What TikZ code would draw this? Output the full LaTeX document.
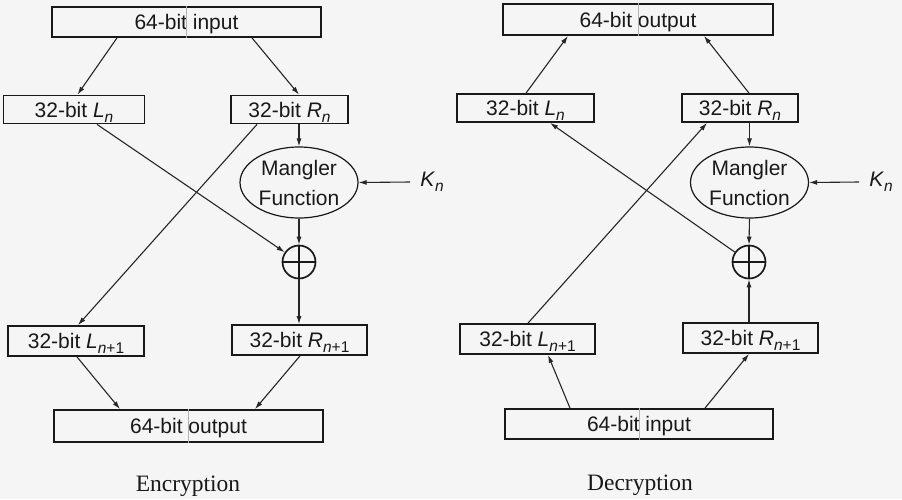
\documentclass[tikz,border=0pt]{standalone}
\usepackage{fontspec}
\setmainfont{Liberation Sans}
\newfontfamily\capfont{Liberation Serif}
\usetikzlibrary{arrows.meta,shapes.geometric,calc}
\newcommand\subx[1]{\raisebox{-5pt}{\fontsize{15.5}{15.5}\selectfont #1}}
\begin{document}
\begin{tikzpicture}[x=1pt,y=-1pt,
  lbl/.style={font=\fontsize{21}{30}\selectfont, text=black!90},
  box/.style={draw=black!90, line width=1.8pt, inner sep=0pt, lbl, text height=15pt, text depth=0pt},
  mang/.style={ellipse, draw=black!90, line width=1.2pt, inner sep=0pt, lbl, align=center, minimum width=118pt, minimum height=71pt},
  xorc/.style={circle, draw=black!90, line width=1.7pt, minimum size=33pt, inner sep=0pt},
  arr/.style={-{Latex[length=8pt,width=5pt]}, line width=1.1pt, draw=black!85},
  divider/.style={draw=black!30, line width=0.5pt},
  keylbl/.style={lbl, inner sep=0pt},
  captxt/.style={font=\capfont\fontsize{23.5}{23.5}\selectfont, text=black!90, inner sep=0pt}]
\fill[white!96!black] (0,0) rectangle (902,499);
\useasboundingbox (0,0) rectangle (902,499);

% ---------------- Encryption ----------------
\node[box, minimum width=269pt, minimum height=30pt] (ein) at (186.5,22) {64-bit input};
\node[box, minimum width=141pt, minimum height=28pt] (eLn) at (74,109.5) {32-bit \textit{L}\subx{\textit{n}}};
\node[box, minimum width=117pt, minimum height=28pt] (eRn) at (289.5,109.5) {32-bit \textit{R}\subx{\textit{n}}};
\node[mang] (emang) at (299,182.5) {Mangler\\Function};
\node[keylbl] (eK) at (432,182) {\textit{K}\subx{\textit{n}}};
\node[xorc] (exor) at (299,262) {};
\node[box, minimum width=136pt, minimum height=30pt] (eLn1) at (76,341) {32-bit \textit{L}\subx{\textit{n}+1}};
\node[box, minimum width=135pt, minimum height=30pt] (eRn1) at (299.5,340) {32-bit \textit{R}\subx{\textit{n}+1}};
\node[box, minimum width=269pt, minimum height=32pt] (eout) at (188.5,426) {64-bit output};
\node[captxt] (ecap) at (188,486) {Encryption};

\draw[divider] (ein.north) -- (ein.south);
\draw[divider] (eout.north) -- (eout.south);
\draw[line width=1.3pt, black!90] (exor.north) -- (exor.south) (exor.west) -- (exor.east);

\draw[arr] ([xshift=-69.5pt]ein.south) -- ([xshift=3.5pt]eLn.north);
\draw[arr] ([xshift=65.5pt]ein.south) -- ([xshift=9.5pt]eRn.north);
\draw[arr] (eRn.south -| emang.north) -- (emang.north);
\draw[arr] ([xshift=-10pt]eK.west) -- (emang.east);
\draw[arr] (emang.south) -- (exor.north);
\draw[arr] ([xshift=23pt]eLn.south) -- (exor);
\draw[arr] ([xshift=-32.5pt]eRn.south) -- ([xshift=2pt]eLn1.north);
\draw[arr] (exor.south) -- (eRn1.north -| exor.south);
\draw[arr] ([xshift=1pt]eLn1.south) -- ([xshift=-68.5pt]eout.north);
\draw[arr] ([xshift=0.5pt]eRn1.south) -- ([xshift=66.5pt]eout.north);

% ---------------- Decryption ----------------
\node[box, minimum width=270pt, minimum height=31pt] (dout) at (638,19.5) {64-bit output};
\node[box, minimum width=137pt, minimum height=28pt] (dLn) at (525.5,108) {32-bit \textit{L}\subx{\textit{n}}};
\node[box, minimum width=116pt, minimum height=28pt] (dRn) at (740,108) {32-bit \textit{R}\subx{\textit{n}}};
\node[mang] (dmang) at (749.5,182.5) {Mangler\\Function};
\node[keylbl] (dK) at (881,182) {\textit{K}\subx{\textit{n}}};
\node[xorc] (dxor) at (749,262) {};
\node[box, minimum width=135pt, minimum height=30pt] (dLn1) at (527.5,339) {32-bit \textit{L}\subx{\textit{n}+1}};
\node[box, minimum width=135pt, minimum height=30pt] (dRn1) at (750.5,338) {32-bit \textit{R}\subx{\textit{n}+1}};
\node[box, minimum width=268pt, minimum height=30pt] (din) at (639,424) {64-bit input};
\node[captxt] (dcap) at (640,485) {Decryption};

\draw[divider] (dout.north) -- (dout.south);
\draw[divider] (din.north) -- (din.south);
\draw[line width=1.3pt, black!90] (dxor.north) -- (dxor.south) (dxor.west) -- (dxor.east);

\draw[arr] ([xshift=0.5pt]dLn.north) -- ([xshift=-70pt]dout.south);
\draw[arr] ([xshift=9pt]dRn.north) -- ([xshift=66pt]dout.south);
\draw[arr] (dRn.south -| dmang.north) -- (dmang.north);
\draw[arr] ([xshift=-10pt]dK.west) -- (dmang.east);
\draw[arr] (dmang.south) -- (dxor.north);
\draw[arr] (dxor) -- ([xshift=24.5pt]dLn.south);
\draw[arr] ([xshift=0.5pt]dLn1.north) -- ([xshift=-33pt]dRn.south);
\draw[arr] (dRn1.north -| dxor.south) -- (dxor.south);
\draw[arr] ([xshift=-69pt]din.north) -- ([xshift=20.5pt]dLn1.south);
\draw[arr] ([xshift=66pt]din.north) -- ([xshift=-1.5pt]dRn1.south);
\end{tikzpicture}
\end{document}
